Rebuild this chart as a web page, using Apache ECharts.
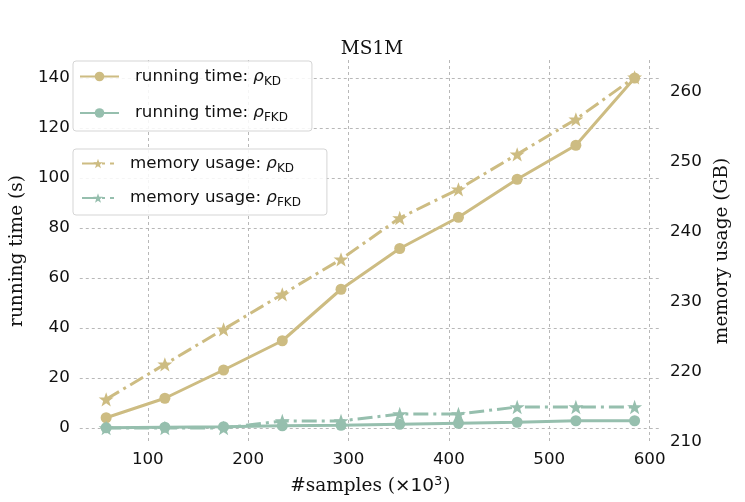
<!DOCTYPE html>
<html>
<head>
<meta charset="utf-8">
<script src="https://cdn.jsdelivr.net/npm/echarts@6/dist/echarts.min.js"></script>
<style>html,body{margin:0;padding:0;background:#fff;}#c{width:745px;height:502px;}</style>
</head>
<body>
<div id="c"></div>
<script>
const samples = [58.5, 117, 175.5, 234, 292.5, 351, 409.5, 468, 526.5, 585];
const timeKD = [4.1, 11.9, 23.2, 34.9, 55.5, 71.8, 84.3, 99.5, 113.1, 140];
const timeFKD = [0.1, 0.3, 0.5, 0.9, 1.1, 1.5, 1.9, 2.3, 2.9, 2.9];
const memKD = [216.1, 221.1, 226.1, 231.1, 236.1, 242.0, 246.1, 251.1, 256.1, 262.1];
const memFKD = [212.0, 212.0, 212.0, 213.0, 213.0, 214.0, 214.0, 215.0, 215.0, 215.0];
const xTicks = [100, 200, 300, 400, 500, 600];
const leftTicks = [0, 20, 40, 60, 80, 100, 120, 140];
const rightTicks = [210, 220, 230, 240, 250, 260];

const GOLD = '#cdbc82';
const SAGE = '#96bfae';
const STAR = 'path://M0,-10 L2.35,-3.24 L9.51,-3.09 L3.8,1.24 L5.88,8.09 L0,4 L-5.88,8.09 L-3.8,1.24 L-9.51,-3.09 L-2.35,-3.24 Z';
const SERIF = '"DejaVu Serif", serif';
const SANS = '"DejaVu Sans", sans-serif';
const DASHDOT = [15, 5, 3, 5];
const SERIF_SIZE = 18.5;

const pairs = a => samples.map((x, i) => [x, a[i]]);
const names = {
  tKD: 'running time: KD', tFKD: 'running time: FKD',
  mKD: 'memory usage: KD', mFKD: 'memory usage: FKD'
};
const legendRich = {
  sp: {width: 11},
  t: {fontFamily: SANS, fontSize: 16.7, color: '#111', lineHeight: 22},
  r: {fontFamily: SANS, fontSize: 16.7, fontStyle: 'italic', color: '#111', lineHeight: 22},
  s: {fontFamily: SANS, fontSize: 12, color: '#111', verticalAlign: 'bottom', lineHeight: 22, padding: [6, 0, 0, 0]}
};
const fmt = n => {
  const parts = n.split(': ');
  return '{sp| }{t|' + parts[0] + ': }{r|ρ}{s|' + parts[1] + '}';
};
const gridLine = {show: true, lineStyle: {color: '#b8b8b8', type: [3, 3], width: 1}};
const nameStyle = {fontFamily: SERIF, fontSize: SERIF_SIZE, color: '#111'};
const tickFont = {fontFamily: SANS, fontSize: 16.7, color: '#111'};

const chart = echarts.init(document.getElementById('c'), null, {renderer: 'canvas'});
chart.setOption({
  animation: false,
  backgroundColor: '#fff',
  title: {
    text: 'MS1M', left: 367, top: 35, textAlign: 'center',
    textStyle: {fontFamily: SERIF, fontSize: SERIF_SIZE, fontWeight: 'normal', color: '#111'}
  },
  grid: {left: 73, right: 84, top: 60, bottom: 60},
  legend: [{
    orient: 'vertical', left: 73, top: 61, width: 300,
    data: [names.tKD, names.tFKD],
    itemWidth: 39, itemHeight: 12, itemGap: 17,
    padding: [7, 24, 7, 6],
    backgroundColor: 'rgba(255,255,255,0.85)', borderColor: '#d5d5d5', borderWidth: 1, borderRadius: 3,
    formatter: fmt, textStyle: {rich: legendRich}
  }, {
    orient: 'vertical', left: 73, top: 149, width: 300,
    data: [names.mKD, names.mFKD],
    itemWidth: 32, itemHeight: 12, itemGap: 15,
    padding: [6, 26, 6, 8],
    backgroundColor: 'rgba(255,255,255,0.85)', borderColor: '#d5d5d5', borderWidth: 1, borderRadius: 3,
    formatter: fmt, textStyle: {rich: legendRich}
  }],
  xAxis: {
    type: 'value', min: 32.2, max: 611.3,
    name: '{s|#samples (}{m|×10}{p|3}{s|)}', nameLocation: 'middle', nameGap: 33,
    nameTextStyle: {
      rich: {
        s: {fontFamily: SERIF, fontSize: SERIF_SIZE, color: '#111', lineHeight: 22},
        m: {fontFamily: SANS, fontSize: SERIF_SIZE, color: '#111', lineHeight: 22},
        p: {fontFamily: SANS, fontSize: 13, color: '#111', verticalAlign: 'top', lineHeight: 22, padding: [0, 1, 7, 0]}
      }
    },
    axisLine: {show: false},
    axisTick: {show: false, customValues: xTicks},
    axisLabel: Object.assign({margin: 9, customValues: xTicks}, tickFont),
    splitLine: gridLine
  },
  yAxis: [{
    type: 'value', min: -5.6, max: 147.2, position: 'left',
    name: 'running time (s)', nameLocation: 'middle', nameGap: 48,
    nameTextStyle: nameStyle,
    axisLine: {show: false},
    axisTick: {show: false, customValues: leftTicks},
    axisLabel: Object.assign({margin: 10, customValues: leftTicks, padding: [3, 0, 0, 0]}, tickFont),
    splitLine: gridLine
  }, {
    type: 'value', min: 210, max: 264.57, position: 'right',
    name: 'memory usage (GB)', nameLocation: 'middle', nameGap: 47,
    nameTextStyle: nameStyle,
    axisLine: {show: false},
    axisTick: {show: false, customValues: rightTicks},
    axisLabel: Object.assign({margin: 9, customValues: rightTicks, padding: [5, 0, 0, 0]}, tickFont),
    splitLine: {show: false}
  }],
  series: [{
    name: names.tKD, type: 'line', yAxisIndex: 0, data: pairs(timeKD),
    symbol: 'circle', symbolSize: 11, color: GOLD,
    lineStyle: {width: 3, color: GOLD}, itemStyle: {color: GOLD}
  }, {
    name: names.tFKD, type: 'line', yAxisIndex: 0, data: pairs(timeFKD),
    symbol: 'circle', symbolSize: 11, color: SAGE,
    lineStyle: {width: 3, color: SAGE}, itemStyle: {color: SAGE}
  }, {
    name: names.mKD, type: 'line', yAxisIndex: 1, data: pairs(memKD),
    symbol: STAR, symbolSize: 15, symbolKeepAspect: true, color: GOLD,
    lineStyle: {width: 3, color: GOLD, type: DASHDOT}, itemStyle: {color: GOLD}
  }, {
    name: names.mFKD, type: 'line', yAxisIndex: 1, data: pairs(memFKD),
    symbol: STAR, symbolSize: 15, symbolKeepAspect: true, color: SAGE,
    lineStyle: {width: 3, color: SAGE, type: DASHDOT}, itemStyle: {color: SAGE}
  }]
});
</script>
</body>
</html>
